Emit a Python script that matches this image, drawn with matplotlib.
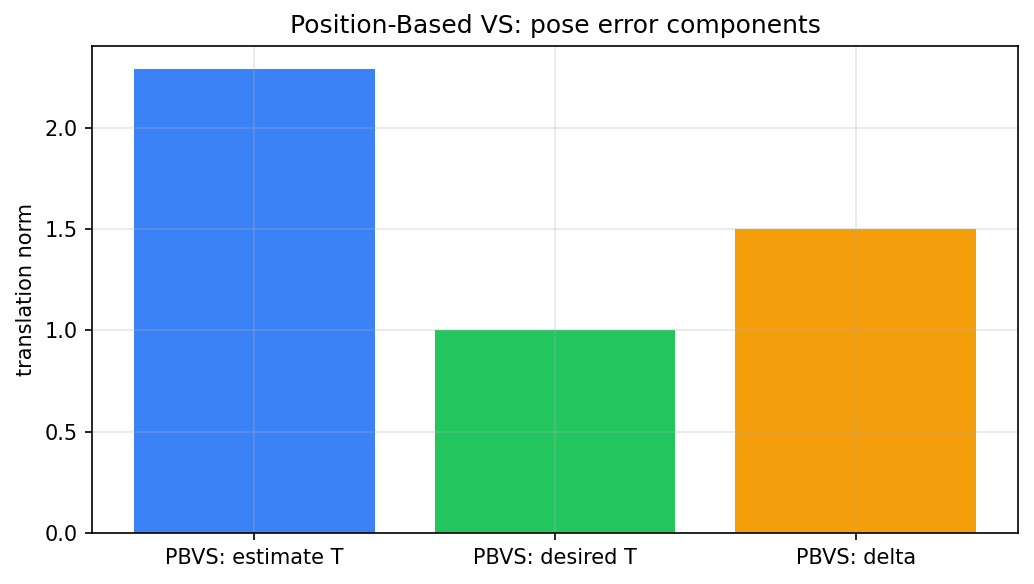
import matplotlib
matplotlib.use("Agg")
import matplotlib.pyplot as plt

labels = ["PBVS: estimate T", "PBVS: desired T", "PBVS: delta"]
values = [2.29, 1.0, 1.5]
colors = ["#3b82f6", "#22c55e", "#f59e0b"]

fig = plt.figure(figsize=(1034 / 150, 584 / 150), dpi=150)
ax = fig.add_axes([92 / 1034, 51 / 584, (1018 - 92) / 1034, (533 - 46) / 584])

ax.bar(labels, values, color=colors)
ax.set_title("Position-Based VS: pose error components")
ax.set_ylabel("translation norm")
ax.grid(alpha=0.3)

fig.savefig("out.png", dpi=150)
